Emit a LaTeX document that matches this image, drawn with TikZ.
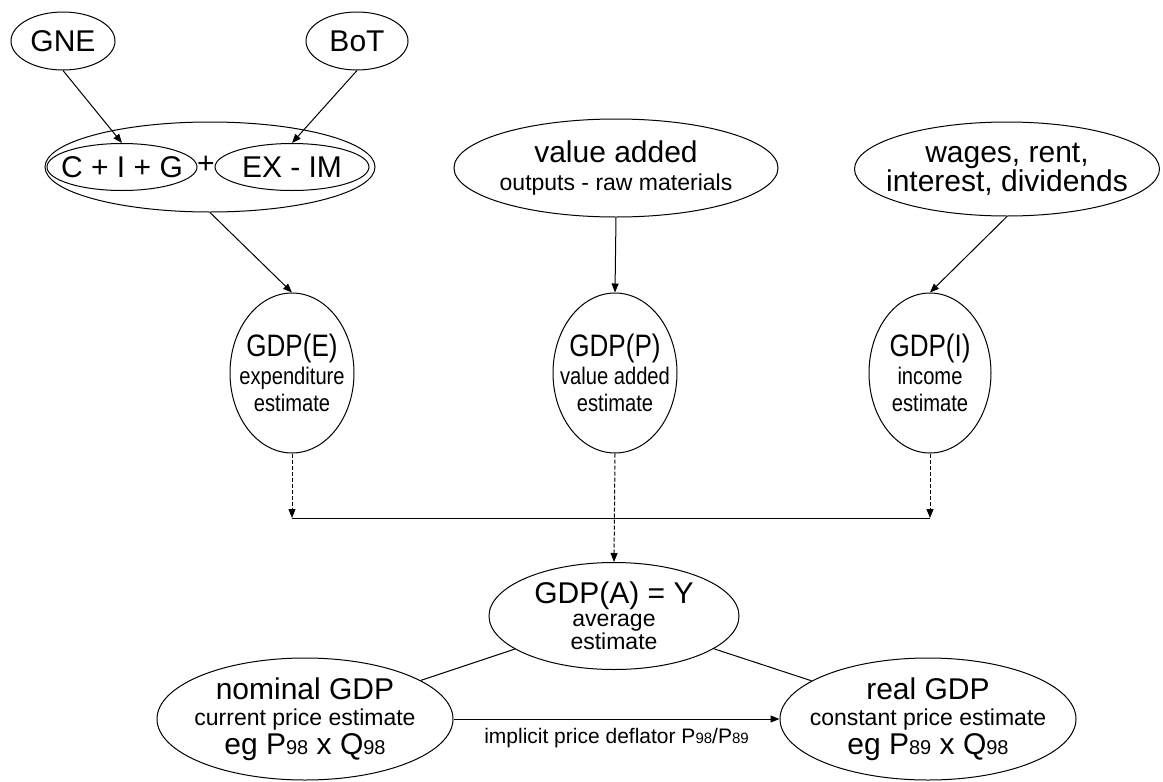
\documentclass[tikz,border=0pt]{standalone}
\usepackage{fontspec}
\setmainfont{Liberation Sans}
\newfontfamily\narrowsf[FakeStretch=0.84]{Liberation Sans}
\usetikzlibrary{shapes.geometric,arrows.meta}

\newcommand{\bigsz}{\fontsize{30}{33}\selectfont}
\newcommand{\smallsz}{\fontsize{23}{26}\selectfont}
\newcommand{\labsz}{\fontsize{21}{24}\selectfont}
\newcommand{\dg}[1]{{\fontsize{20}{20}\selectfont #1}}
\newcommand{\ldg}[1]{{\fontsize{15}{15}\selectfont #1}}

\tikzset{
  oval/.style={draw, ellipse, inner sep=0pt},
  bigtxt/.style={font=\bigsz, align=center, inner sep=0pt},
  smalltxt/.style={font=\smallsz, align=center, inner sep=0pt},
  roundtxt/.style={font=\narrowsf\fontsize{24}{27}\selectfont, align=center, inner sep=0pt},
  dashline/.style={dash pattern=on 4pt off 2pt},
  >={Triangle[length=9pt,width=7pt]}
}

\begin{document}
\begin{tikzpicture}[x=1pt, y=-1pt, line width=1pt]
  \useasboundingbox (0,0) rectangle (1163,782);

  % top row
  \node[oval, minimum width=104, minimum height=58] (gne) at (63,41) {};
  \node[bigtxt] (gne-t) at (gne) {GNE};
  \node[oval, minimum width=102, minimum height=58] (bot) at (357,41) {};
  \node[bigtxt] (bot-t) at (bot) {BoT};

  % expenditure side
  \node[oval, minimum width=330, minimum height=90] (spend) at (210,167) {};
  \node[oval, minimum width=150, minimum height=47] (cig) at (122,167) {};
  \node[bigtxt] (cig-t) at (cig) {C + I + G};
  \node[bigtxt] (plus) at (206,165) {+};
  \node[oval, minimum width=154, minimum height=47] (exim) at (292,167) {};
  \node[bigtxt] (exim-t) at (exim) {EX - IM};

  % value added, incomes
  \node[oval, minimum width=324, minimum height=98] (vadd) at (616,168) {};
  \node[bigtxt] (vadd-t) at (vadd) {value added\\[-5pt]{\smallsz outputs - raw materials}};
  \node[oval, minimum width=305, minimum height=94] (wages) at (1007,169) {};
  \node[bigtxt] (wages-t) at (wages) {wages, rent,\\[-4pt]interest, dividends};

  % the three estimates
  \node[oval, minimum width=124, minimum height=160] (gdpe) at (292,373) {};
  \node[roundtxt] (gdpe-t) at (gdpe) {{\fontsize{31}{33}\selectfont GDP(E)}\\[1pt]expenditure\\estimate};
  \node[oval, minimum width=124, minimum height=160] (gdpp) at (615,373) {};
  \node[roundtxt] (gdpp-t) at (gdpp) {{\fontsize{31}{33}\selectfont GDP(P)}\\[1pt]value added\\estimate};
  \node[oval, minimum width=122, minimum height=160] (gdpi) at (930,373) {};
  \node[roundtxt] (gdpi-t) at (gdpi) {{\fontsize{31}{33}\selectfont GDP(I)}\\[1pt]income\\estimate};

  % average and the two GDPs
  \node[oval, minimum width=250, minimum height=107] (gdpa) at (614,616) {};
  \node[smalltxt] (gdpa-t) at (gdpa) {{\bigsz GDP(A) = Y}\\[-3pt]average\\[-3pt]estimate};
  \node[oval, minimum width=296, minimum height=122] (nominal) at (305,719) {};
  \node[bigtxt] (nominal-t) at (nominal) {nominal GDP\\[-7pt]{\smallsz current price estimate}\\[-4pt]eg P\dg{98} x Q\dg{98}};
  \node[oval, minimum width=296, minimum height=122] (real) at (928,719) {};
  \node[bigtxt] (real-t) at (real) {real GDP\\[-7pt]{\smallsz constant price estimate}\\[-4pt]eg P\dg{89} x Q\dg{98}};

  \coordinate (mergeL) at (292,518);
  \coordinate (mergeR) at (930,518);

  \draw[->] (gne.south) -- (cig.north); % GNE-C+I+G
  \draw[->] (bot.south) -- (exim.north); % BoT-EX-IM
  \draw[->] (spend.south) -- (gdpe.north); % spending-GDP(E)
  \draw[->] (vadd.south) -- (gdpp.north); % value added-GDP(P)
  \draw[->] (wages.south) -- (gdpi.north); % wages-GDP(I)

  \draw[dashline, ->] (gdpe.south) -- (mergeL);
  \draw[dashline, ->] (gdpi.south) -- (mergeR);
  \draw (mergeL) -- (mergeR);
  \draw[dashline, ->] (gdpp.south) -- (gdpa.north);

  \draw (gdpa) -- (nominal); % A-nominal
  \draw (gdpa) -- (real); % A-real
  \draw[->] (nominal.east) -- (real.west)
    node[midway, below=9pt, font=\labsz, inner sep=0pt] (deflator) {implicit price deflator P\ldg{98}/P\ldg{89}};
\end{tikzpicture}
\end{document}
